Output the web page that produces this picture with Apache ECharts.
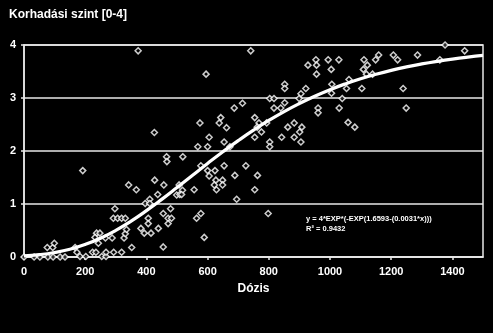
<!DOCTYPE html>
<html>
<head>
<meta charset="utf-8">
<script src="https://cdn.jsdelivr.net/npm/echarts@6/dist/echarts.min.js"></script>
<style>
html,body{margin:0;padding:0;background:#000;}
#chart{width:493px;height:333px;}
</style>
</head>
<body>
<div id="chart"></div>
<script>
// Observed points: dose (x) and decay level (y)
const doseX = [0,33,52,78,95,118,134,76,94,99,167,173,183,202,224,235,254,268,268,293,319,
  237,248,232,243,266,288,192,292,306,319,331,297,327,331,335,352,342,367,382,393,415,406,406,
  396,411,411,427,426,437,439,455,455,457,466,467,471,482,471,479,499,507,518,509,515,519,373,
  556,564,578,589,578,600,605,624,627,649,622,649,629,575,568,600,605,595,643,638,662,654,654,
  673,689,695,687,714,725,754,763,798,741,754,768,762,776,754,793,803,803,842,862,883,883,905,
  901,908,803,817,817,839,852,852,852,905,899,921,928,954,956,956,994,1029,1004,1006,1005,961,
  961,1040,1030,1062,1054,1059,1081,1111,1122,1109,1119,1139,1104,1149,1159,1207,1221,1286,
  1359,1376,1440,1239,1249];
const levelY = [0,0,0,0,0,0,0,0.18,0.18,0.26,0.18,0.09,0.01,0.01,0.09,0.09,0.01,0.01,0.09,0.09,0.09,
  0.45,0.45,0.37,0.26,0.36,0.36,1.63,0.73,0.73,0.73,0.73,0.91,0.36,0.44,0.52,0.18,1.36,1.27,0.54,0.45,0.45,0.73,0.63,
  1.01,1.09,1.01,1.45,2.35,1.18,0.54,0.82,0.19,1.36,1.89,1.80,0.73,0.73,0.63,0.91,1.17,1.36,1.26,1.18,1.18,1.89,3.89,
  1.27,0.73,0.82,0.37,1.72,1.63,1.53,1.63,1.45,1.45,1.36,1.36,1.27,2.53,2.08,2.08,2.26,3.45,2.63,2.53,2.44,2.17,1.72,
  2.08,1.54,1.09,2.81,2.90,1.72,1.27,1.54,0.82,3.89,2.63,2.53,2.45,2.36,2.26,2.53,2.17,2.08,2.26,2.45,2.53,2.26,2.17,
  2.36,2.45,2.99,2.99,2.81,2.81,2.91,3.26,3.18,3.08,2.99,3.18,3.62,3.72,3.62,3.45,3.72,3.72,3.54,3.26,3.09,2.81,
  2.72,2.99,2.81,3.35,3.18,2.54,2.45,3.72,3.62,3.54,3.45,3.45,3.18,3.72,3.81,3.81,3.72,3.81,
  3.72,4.0,3.89,3.18,2.81];
// Fitted curve
const curveX = [0,50,100,150,200,250,300,350,400,450,500,550,600,650,700,750,800,850,900,950,
  1000,1050,1100,1150,1200,1250,1300,1350,1400,1450,1500];
const curveY = [0.021,0.044,0.085,0.147,0.237,0.355,0.503,0.677,0.874,1.087,1.311,1.539,1.765,1.985,
  2.195,2.393,2.576,2.744,2.896,3.034,3.157,3.266,3.362,3.447,3.522,3.587,3.643,3.692,3.735,3.772,3.804];
const titleText = 'Korhadási szint [0-4]';
const xName = 'Dózis';
const eqText = 'y = 4*EXP*(-EXP(1.6593-(0.0031*x)))';
const r2Text = 'R² = 0.9432';

const chart = echarts.init(document.getElementById('chart'), null, {renderer: 'canvas'});
const font = '"Liberation Sans", Arial, sans-serif';
chart.setOption({
  backgroundColor: '#000',
  animation: false,
  title: {
    text: titleText, left: 4, top: 4,
    textStyle: {color: '#fff', fontSize: 12, fontWeight: 'bold', fontFamily: font}
  },
  grid: {left: 24, right: 10, top: 45, bottom: 76, show: true, borderColor: '#e8e8e8', borderWidth: 1.5, backgroundColor: 'transparent'},
  xAxis: {
    type: 'value', min: 0, max: 1500, interval: 200,
    name: xName, nameLocation: 'middle', nameGap: 26,
    nameTextStyle: {color: '#fff', fontSize: 12, fontWeight: 'bold', fontFamily: font},
    axisLine: {show: true, lineStyle: {color: '#e8e8e8', width: 1.5}},
    axisTick: {show: true, length: 3, lineStyle: {color: '#e8e8e8', width: 1.5}},
    axisLabel: {color: '#fff', fontSize: 11, fontWeight: 'bold', fontFamily: font, margin: 9, showMaxLabel: false,
      formatter: v => String(v)},
    splitLine: {show: false}
  },
  yAxis: {
    type: 'value', min: 0, max: 4, interval: 1,
    axisLine: {show: true, lineStyle: {color: '#e8e8e8', width: 1.5}},
    axisTick: {show: true, length: 3, lineStyle: {color: '#e8e8e8', width: 1.5}},
    axisLabel: {color: '#fff', fontSize: 11, fontWeight: 'bold', fontFamily: font, margin: 8},
    splitLine: {show: true, lineStyle: {color: '#e8e8e8', width: 1.5}}
  },
  series: [
    {
      type: 'scatter',
      data: doseX.map((x, i) => [x, levelY[i]]),
      symbol: 'diamond', symbolSize: 6,
      itemStyle: {color: '#000', borderColor: '#fff', borderWidth: 1.5},
      z: 3
    },
    {
      type: 'line',
      data: curveX.map((x, i) => [x, curveY[i]]),
      smooth: true, showSymbol: false,
      lineStyle: {color: '#fff', width: 3.2},
      z: 4
    }
  ],
  graphic: [
    {type: 'text', left: 306, top: 215, style: {text: eqText, fill: '#fff', font: 'bold 7.5px ' + font}},
    {type: 'text', left: 306, top: 225, style: {text: r2Text, fill: '#fff', font: 'bold 7.5px ' + font}}
  ]
});
</script>
</body>
</html>
